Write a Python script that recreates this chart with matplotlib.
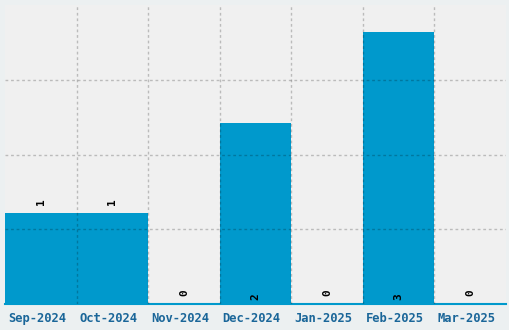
import matplotlib
matplotlib.use("Agg")
import matplotlib.pyplot as plt
import matplotlib.transforms as mtransforms
import numpy as np

months = ["Sep-2024", "Oct-2024", "Nov-2024", "Dec-2024", "Jan-2025", "Feb-2025", "Mar-2025"]
counts = [1, 1, 0, 2, 0, 3, 0]

BAR = "#0099cc"
TICK = "#1a6699"

fig = plt.figure(figsize=(5.1, 3.3), dpi=100, facecolor="#ecf0f1")
ax = fig.add_axes([5 / 510, 26 / 330, 501 / 510, 299 / 330])
ax.set_facecolor("#f0f0f0")

x = np.arange(len(months))
ax.bar(x, counts, width=1.0, color=BAR, zorder=1)

ymax = 3.3
ax.set_xlim(-0.5, len(months) - 0.5)
ax.set_ylim(0, ymax)
ax.set_yticks(np.linspace(0, ymax, 5)[1:-1])
ax.set_yticklabels([])
ax.tick_params(axis="y", length=0)
ax.set_xticks(x)
ax.set_xticklabels(months, family="DejaVu Sans Mono", fontweight="bold",
                   fontsize=8.7, color=TICK)
ax.set_xticks(x[:-1] + 0.5, minor=True)
ax.tick_params(axis="x", which="both", length=0, pad=6)
shift = mtransforms.ScaledTranslation(-4 / 100, 0, fig.dpi_scale_trans)
for lab in ax.get_xticklabels():
    lab.set_transform(lab.get_transform() + shift)

ax.grid(axis="y", which="major", color="black", alpha=0.22, ls=(0, (2, 2)), lw=1, zorder=2)
ax.grid(axis="x", which="minor", color="black", alpha=0.22, ls=(0, (2, 2)), lw=1, zorder=2)
ax.set_axisbelow(False)

for s in ["top", "left", "right"]:
    ax.spines[s].set_visible(False)
ax.spines["bottom"].set_color(BAR)
ax.spines["bottom"].set_linewidth(1.5)

for xi, v in zip(x, counts):
    if v >= 2:
        ax.annotate(str(v), (xi, 0), xytext=(0, 3), textcoords="offset points",
                    ha="center", va="bottom", rotation=90, fontsize=8,
                    family="DejaVu Sans Mono", fontweight="bold", color="black")
    else:
        ax.annotate(str(v), (xi, v), xytext=(0, 6), textcoords="offset points",
                    ha="center", va="bottom", rotation=90, fontsize=8,
                    family="DejaVu Sans Mono", fontweight="bold", color="black")

fig.savefig("out.png", dpi=100, facecolor=fig.get_facecolor())
